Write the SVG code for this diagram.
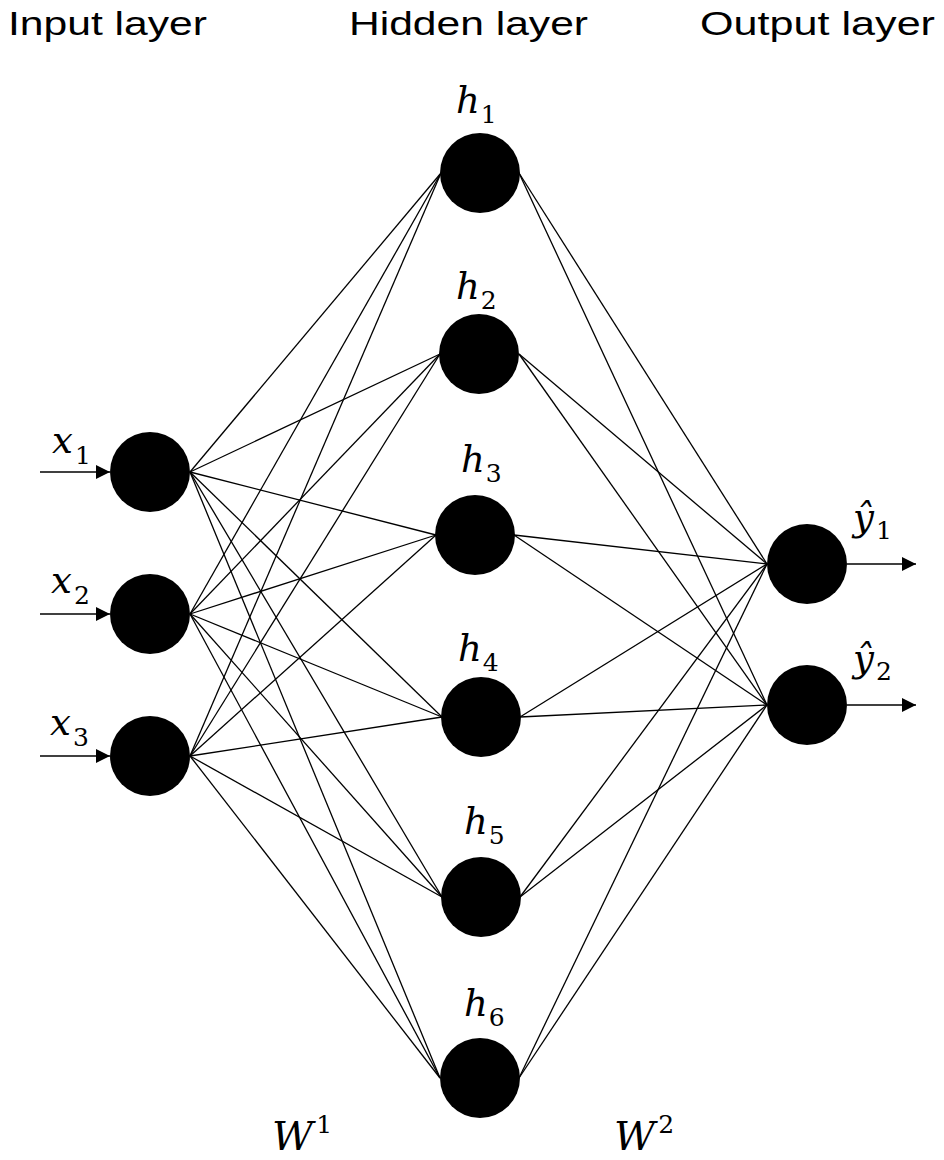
<svg xmlns="http://www.w3.org/2000/svg" width="944" height="1160" viewBox="0 0 944 1160">
<style>
.title{font-family:"Liberation Sans",Arial,sans-serif;font-size:34px;fill:#000}
.m{font-family:"DejaVu Serif","Liberation Serif",serif;font-style:italic;font-size:37px;fill:#000}
.w{font-size:40px}
.s{font-family:"DejaVu Serif","Liberation Serif",serif;font-style:normal;font-size:25px}
.node{fill:#000}
.e{stroke:#000;stroke-width:1.3;fill:none}
.io{stroke:#000;stroke-width:1.6;fill:none;marker-end:url(#ah)}
</style>
<defs>
<marker id="ah" viewBox="0 0 14 14" refX="14" refY="7" markerWidth="14" markerHeight="14" markerUnits="userSpaceOnUse" orient="auto">
<path d="M0,0 L14,7 L0,14 Z" fill="#000"/>
</marker>
</defs>
<rect width="944" height="1160" fill="#fff"/>
<g id="titles">
<text class="title" x="8" y="35" textLength="199" lengthAdjust="spacingAndGlyphs">Input layer</text>
<text class="title" x="349" y="35" textLength="239" lengthAdjust="spacingAndGlyphs">Hidden layer</text>
<text class="title" x="700" y="35" textLength="235" lengthAdjust="spacingAndGlyphs">Output layer</text>
</g>
<g id="connectors">
<line class="e" x1="190" y1="472" x2="441" y2="173"/>
<line class="e" x1="190" y1="472" x2="440" y2="354"/>
<line class="e" x1="190" y1="472" x2="436" y2="535"/>
<line class="e" x1="190" y1="472" x2="442" y2="717"/>
<line class="e" x1="190" y1="472" x2="442" y2="897"/>
<line class="e" x1="190" y1="472" x2="440" y2="1078"/>
<line class="e" x1="190" y1="614" x2="441" y2="173"/>
<line class="e" x1="190" y1="614" x2="440" y2="354"/>
<line class="e" x1="190" y1="614" x2="436" y2="535"/>
<line class="e" x1="190" y1="614" x2="442" y2="717"/>
<line class="e" x1="190" y1="614" x2="442" y2="897"/>
<line class="e" x1="190" y1="614" x2="440" y2="1078"/>
<line class="e" x1="190" y1="756" x2="441" y2="173"/>
<line class="e" x1="190" y1="756" x2="440" y2="354"/>
<line class="e" x1="190" y1="756" x2="436" y2="535"/>
<line class="e" x1="190" y1="756" x2="442" y2="717"/>
<line class="e" x1="190" y1="756" x2="442" y2="897"/>
<line class="e" x1="190" y1="756" x2="440" y2="1078"/>
<line class="e" x1="519" y1="173" x2="767" y2="564"/>
<line class="e" x1="519" y1="173" x2="767" y2="705"/>
<line class="e" x1="519" y1="354" x2="767" y2="564"/>
<line class="e" x1="519" y1="354" x2="767" y2="705"/>
<line class="e" x1="514" y1="535" x2="767" y2="564"/>
<line class="e" x1="514" y1="535" x2="767" y2="705"/>
<line class="e" x1="520" y1="717" x2="767" y2="564"/>
<line class="e" x1="520" y1="717" x2="767" y2="705"/>
<line class="e" x1="520" y1="897" x2="767" y2="564"/>
<line class="e" x1="520" y1="897" x2="767" y2="705"/>
<line class="e" x1="519" y1="1078" x2="767" y2="564"/>
<line class="e" x1="519" y1="1078" x2="767" y2="705"/>
<line class="io" x1="40" y1="472" x2="110" y2="472"/>
<line class="io" x1="40" y1="614" x2="110" y2="614"/>
<line class="io" x1="40" y1="756" x2="110" y2="756"/>
<line class="io" x1="847" y1="564" x2="916" y2="564"/>
<line class="io" x1="847" y1="705" x2="916" y2="705"/>
</g>
<g id="x1"><circle class="node" cx="150" cy="472" r="40"/><text class="m" x="52" y="453">x<tspan class="s" dx="2" dy="11">1</tspan></text></g>
<g id="x2"><circle class="node" cx="150" cy="614" r="40"/><text class="m" x="51" y="593">x<tspan class="s" dx="2" dy="11">2</tspan></text></g>
<g id="x3"><circle class="node" cx="150" cy="756" r="40"/><text class="m" x="50" y="735">x<tspan class="s" dx="2" dy="11">3</tspan></text></g>
<g id="h1"><circle class="node" cx="480" cy="173" r="40"/><text class="m" x="456" y="113">h<tspan class="s" dx="1" dy="10">1</tspan></text></g>
<g id="h2"><circle class="node" cx="479" cy="354" r="40"/><text class="m" x="456" y="299">h<tspan class="s" dx="1" dy="10">2</tspan></text></g>
<g id="h3"><circle class="node" cx="475" cy="535" r="40"/><text class="m" x="461" y="472">h<tspan class="s" dx="1" dy="10">3</tspan></text></g>
<g id="h4"><circle class="node" cx="481" cy="717" r="40"/><text class="m" x="458" y="661">h<tspan class="s" dx="1" dy="10">4</tspan></text></g>
<g id="h5"><circle class="node" cx="481" cy="897" r="40"/><text class="m" x="464" y="834">h<tspan class="s" dx="1" dy="10">5</tspan></text></g>
<g id="h6"><circle class="node" cx="480" cy="1078" r="40"/><text class="m" x="464" y="1016">h<tspan class="s" dx="1" dy="10">6</tspan></text></g>
<g id="y1"><circle class="node" cx="807" cy="564" r="40"/><text class="m" x="853" y="530">ŷ<tspan class="s" dx="2" dy="9">1</tspan></text></g>
<g id="y2"><circle class="node" cx="807" cy="705" r="40"/><text class="m" x="853" y="671">ŷ<tspan class="s" dx="2" dy="9">2</tspan></text></g>
<g id="weights">
<text class="m w" x="272" y="1150">W<tspan class="s" dx="3" dy="-17">1</tspan></text>
<text class="m w" x="614" y="1150">W<tspan class="s" dx="3" dy="-17">2</tspan></text>
</g>
</svg>
